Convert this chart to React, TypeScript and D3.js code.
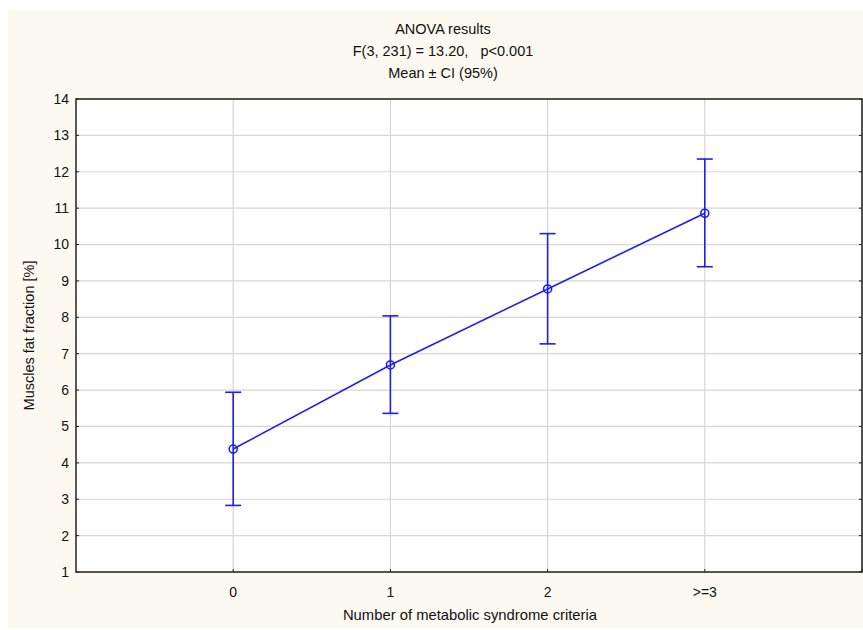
import * as d3 from "d3";

const WIDTH = 863;
const HEIGHT = 630;
const MARGIN = { top: 99, right: 1, bottom: 58, left: 76 };

const categories = ["0", "1", "2", ">=3"];
const means = [4.38, 6.69, 8.78, 10.86];
const ciLower = [2.83, 5.36, 7.27, 9.39];
const ciUpper = [5.94, 8.04, 10.3, 12.35];
const yTicks = [1, 2, 3, 4, 5, 6, 7, 8, 9, 10, 11, 12, 13, 14];

const titleLines = ["ANOVA results", "F(3, 231) = 13.20,   p<0.001", "Mean ± CI (95%)"];

const FONT = "Liberation Sans, Arial, sans-serif";
const BLUE = "#1f1fe8";
const CAP = 8;

export default function App() {
  const boundsWidth = WIDTH - MARGIN.left - MARGIN.right;
  const boundsHeight = HEIGHT - MARGIN.top - MARGIN.bottom;

  // categories sit at 0..3 on a -1..4 domain
  const xScale = d3.scaleLinear().domain([-1, 4]).range([0, boundsWidth]);
  const yScale = d3.scaleLinear().domain([1, 14]).range([boundsHeight, 0]);

  const line = d3
    .line<number>()
    .x((_, i) => xScale(i))
    .y((d) => yScale(d));

  return (
    <svg
      width={WIDTH}
      height={HEIGHT}
      style={{ position: "absolute", left: 0, top: 0, fontFamily: FONT }}
    >
      <rect x={8} y={10} width={WIDTH - 8} height={HEIGHT - 12} fill="#fcfaf0" />

      {titleLines.map((t, i) => (
        <text
          key={i}
          x={443}
          y={34 + i * 22}
          fontSize={14.5}
          textAnchor="middle"
          fill="#111"
          style={{ whiteSpace: "pre" }}
        >
          {t}
        </text>
      ))}

      <g transform={`translate(${MARGIN.left},${MARGIN.top})`}>
        <rect width={boundsWidth} height={boundsHeight} fill="#ffffff" />

        {/* grid */}
        {yTicks.map((t) => (
          <line key={t} x1={0} x2={boundsWidth} y1={yScale(t)} y2={yScale(t)} stroke="#d6d6d6" strokeWidth={1.2} />
        ))}
        {d3.range(0, 5).map((i) => (
          <line key={i} x1={xScale(i)} x2={xScale(i)} y1={0} y2={boundsHeight} stroke="#d6d6d6" strokeWidth={1.2} />
        ))}

        {/* frame */}
        <rect width={boundsWidth} height={boundsHeight} fill="none" stroke="#222" strokeWidth={1.5} />

        {/* y ticks */}
        {yTicks.map((t) => (
          <g key={t} transform={`translate(0,${yScale(t)})`}>
            <line x1={0} x2={3} stroke="#222" />
            <line x1={boundsWidth} x2={boundsWidth - 3} stroke="#222" />
            <text x={-7} dy="0.35em" fontSize={14} textAnchor="end" fill="#111">
              {t}
            </text>
          </g>
        ))}

        {/* x ticks */}
        {d3.range(0, 5).map((i) => (
          <line key={i} x1={xScale(i)} x2={xScale(i)} y1={boundsHeight} y2={boundsHeight - 3} stroke="#222" />
        ))}
        {categories.map((c, i) => (
          <text key={c} x={xScale(i)} y={boundsHeight + 25} fontSize={14} textAnchor="middle" fill="#111">
            {c}
          </text>
        ))}

        {/* error bars */}
        {means.map((_, i) => (
          <g key={i} stroke={BLUE} strokeWidth={1.6}>
            <line x1={xScale(i)} x2={xScale(i)} y1={yScale(ciLower[i])} y2={yScale(ciUpper[i])} />
            <line x1={xScale(i) - CAP} x2={xScale(i) + CAP} y1={yScale(ciLower[i])} y2={yScale(ciLower[i])} />
            <line x1={xScale(i) - CAP} x2={xScale(i) + CAP} y1={yScale(ciUpper[i])} y2={yScale(ciUpper[i])} />
          </g>
        ))}

        <path d={line(means) ?? ""} fill="none" stroke={BLUE} strokeWidth={1.6} />

        {means.map((m, i) => (
          <circle key={i} cx={xScale(i)} cy={yScale(m)} r={4} fill="none" stroke={BLUE} strokeWidth={1.6} />
        ))}
      </g>

      <text
        transform={`translate(34,${MARGIN.top + boundsHeight / 2}) rotate(-90)`}
        fontSize={14.5}
        textAnchor="middle"
        fill="#111"
      >
        Muscles fat fraction [%]
      </text>
      <text x={470} y={620} fontSize={14.8} textAnchor="middle" fill="#111">
        Number of metabolic syndrome criteria
      </text>
    </svg>
  );
}
